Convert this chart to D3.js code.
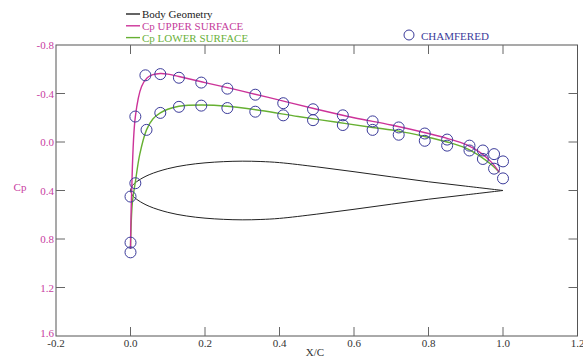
<!DOCTYPE html>
<html>
<head>
<meta charset="utf-8">
<script src="https://cdn.jsdelivr.net/npm/d3@7"></script>
<style>
  html, body { margin: 0; padding: 0; background: #fff; }
  svg { display: block; }
</style>
</head>
<body>
<div id="chart"></div>
<script>
// ---- data ----
const xTicks = [-0.2, 0.0, 0.2, 0.4, 0.6, 0.8, 1.0, 1.2];
const yTicks = [-0.8, -0.4, 0.0, 0.4, 0.8, 1.2, 1.6];

// body geometry (drawn on the Cp axis, chord line at Cp = 0.4)
const bodyX     = [0, 0.005, 0.02, 0.05, 0.1, 0.15, 0.2, 0.25, 0.3, 0.35, 0.4, 0.5, 0.6, 0.7, 0.8, 0.9, 1.0];
const bodyUpper = [0.40, 0.36, 0.32, 0.27, 0.22, 0.19, 0.172, 0.162, 0.158, 0.161, 0.17, 0.205, 0.245, 0.287, 0.328, 0.364, 0.40];
const bodyLower = [0.40, 0.44, 0.48, 0.53, 0.58, 0.61, 0.628, 0.638, 0.642, 0.639, 0.63, 0.595, 0.555, 0.513, 0.472, 0.436, 0.40];

// Cp upper surface (magenta)
const upperX  = [0.0, 0.003, 0.013, 0.03, 0.045, 0.06, 0.08, 0.1, 0.13, 0.2, 0.3, 0.4, 0.5, 0.6, 0.7, 0.8, 0.85, 0.9, 0.94, 0.97, 0.99];
const upperCp = [0.88, 0.42, -0.21, -0.46, -0.53, -0.555, -0.565, -0.56, -0.54, -0.49, -0.42, -0.345, -0.27, -0.2, -0.14, -0.07, -0.03, 0.02, 0.09, 0.17, 0.25];

// Cp lower surface (green)
const lowerX  = [0.0, 0.005, 0.013, 0.025, 0.043, 0.06, 0.08, 0.1, 0.13, 0.19, 0.26, 0.35, 0.45, 0.55, 0.65, 0.72, 0.79, 0.85, 0.9, 0.94, 0.97, 0.99];
const lowerCp = [0.88, 0.5, 0.33, 0.1, -0.1, -0.19, -0.24, -0.27, -0.295, -0.305, -0.295, -0.26, -0.21, -0.165, -0.12, -0.09, -0.045, 0.0, 0.05, 0.12, 0.19, 0.25];

// chamfered (circles)
const chamX  = [0.0, 0.0, 0.0, 0.013, 0.04, 0.08, 0.13, 0.19, 0.26, 0.335, 0.41, 0.49, 0.57, 0.65, 0.72, 0.79, 0.85, 0.91, 0.946, 0.976, 1.0,
                0.013, 0.043, 0.08, 0.13, 0.19, 0.26, 0.335, 0.41, 0.49, 0.57, 0.65, 0.72, 0.79, 0.85, 0.91, 0.946, 0.976, 1.0];
const chamCp = [0.91, 0.83, 0.45, -0.21, -0.55, -0.56, -0.53, -0.49, -0.44, -0.39, -0.32, -0.27, -0.22, -0.17, -0.12, -0.07, -0.02, 0.03, 0.07, 0.10, 0.16,
                0.34, -0.10, -0.24, -0.29, -0.30, -0.28, -0.25, -0.22, -0.18, -0.14, -0.10, -0.06, -0.01, 0.03, 0.07, 0.14, 0.22, 0.30];

const legendItems = [
  { label: 'Body Geometry', color: '#222', text: '#222' },
  { label: 'Cp UPPER SURFACE', color: '#cc3399', text: '#c53d9c' },
  { label: 'Cp LOWER SURFACE', color: '#66b032', text: '#6ab13a' },
];

// ---- chart ----
const width = 583, height = 360;
const font = '"Liberation Serif", "Times New Roman", serif';
const magenta = '#cc3399', green = '#66b032', navy = '#3b3b9a';
const fmt = d => d.toFixed(1);

const svg = d3.select('#chart').append('svg')
  .attr('width', width)
  .attr('height', height);

const x = d3.scaleLinear().domain([-0.2, 1.2]).range([56, 577.5]);
const y = d3.scaleLinear().domain([-0.8, 1.6]).range([45, 336]);

// frame
svg.append('rect')
  .attr('x', x(-0.2)).attr('y', y(-0.8))
  .attr('width', x(1.2) - x(-0.2)).attr('height', y(1.6) - y(-0.8))
  .attr('fill', 'none').attr('stroke', '#555').attr('stroke-width', 1);

// ticks, inward on all four sides
const tickLen = 9;
const inner = xTicks.slice(1, -1);
svg.append('g').selectAll('line').data(inner).enter().append('line')
  .attr('x1', d => x(d)).attr('x2', d => x(d))
  .attr('y1', y(1.6)).attr('y2', y(1.6) - tickLen)
  .attr('stroke', '#666');
svg.append('g').selectAll('line').data(inner).enter().append('line')
  .attr('x1', d => x(d)).attr('x2', d => x(d))
  .attr('y1', y(-0.8)).attr('y2', y(-0.8) + tickLen)
  .attr('stroke', '#666');
const innerY = yTicks.slice(1, -1);
svg.append('g').selectAll('line').data(innerY).enter().append('line')
  .attr('x1', x(-0.2)).attr('x2', x(-0.2) + tickLen)
  .attr('y1', d => y(d)).attr('y2', d => y(d))
  .attr('stroke', '#666');
svg.append('g').selectAll('line').data(innerY).enter().append('line')
  .attr('x1', x(1.2)).attr('x2', x(1.2) - tickLen)
  .attr('y1', d => y(d)).attr('y2', d => y(d))
  .attr('stroke', '#666');

// tick labels
svg.append('g').selectAll('text').data(xTicks).enter().append('text')
  .attr('x', d => x(d)).attr('y', y(1.6) + 11)
  .attr('text-anchor', 'middle')
  .attr('font-family', font).attr('font-size', 11).attr('fill', '#333')
  .text(fmt);
svg.append('g').selectAll('text').data(yTicks).enter().append('text')
  .attr('x', x(-0.2) - 2).attr('y', d => y(d) + (d === 1.6 ? 1 : 4))
  .attr('text-anchor', 'end')
  .attr('font-family', font).attr('font-size', 11).attr('fill', '#c8409f')
  .text(fmt);

// axis titles
svg.append('text').attr('x', 315).attr('y', 356)
  .attr('text-anchor', 'middle').attr('font-family', font).attr('font-size', 11).attr('fill', '#333')
  .text('X/C');
svg.append('text').attr('x', 20).attr('y', 191)
  .attr('text-anchor', 'middle').attr('font-family', font).attr('font-size', 11).attr('fill', '#c8409f')
  .text('Cp');

// series
const line = d3.line()
  .x(d => x(d[0])).y(d => y(d[1]))
  .curve(d3.curveCatmullRom.alpha(0.5));

svg.append('path').datum(d3.zip(bodyX, bodyUpper))
  .attr('d', line).attr('fill', 'none').attr('stroke', '#222').attr('stroke-width', 1);
svg.append('path').datum(d3.zip(bodyX, bodyLower))
  .attr('d', line).attr('fill', 'none').attr('stroke', '#222').attr('stroke-width', 1);

svg.append('path').datum(d3.zip(lowerX, lowerCp))
  .attr('d', line).attr('fill', 'none').attr('stroke', green).attr('stroke-width', 1.4);
svg.append('path').datum(d3.zip(upperX, upperCp))
  .attr('d', line).attr('fill', 'none').attr('stroke', magenta).attr('stroke-width', 1.4);

svg.append('g').selectAll('circle').data(d3.zip(chamX, chamCp)).enter().append('circle')
  .attr('cx', d => x(d[0])).attr('cy', d => y(d[1]))
  .attr('r', 5.5)
  .attr('fill', 'none').attr('stroke', navy).attr('stroke-width', 1);

// legend
const leg = svg.append('g');
legendItems.forEach((item, i) => {
  const ly = 14 + i * 11.8;
  leg.append('line')
    .attr('x1', 126).attr('x2', 140).attr('y1', ly).attr('y2', ly)
    .attr('stroke', item.color).attr('stroke-width', 1.4);
  leg.append('text')
    .attr('x', 142).attr('y', ly + 4)
    .attr('font-family', font).attr('font-size', 11).attr('fill', item.text)
    .text(item.label);
});

leg.append('circle').attr('cx', 409).attr('cy', 35).attr('r', 5)
  .attr('fill', 'none').attr('stroke', navy).attr('stroke-width', 1);
leg.append('text').attr('x', 421).attr('y', 39.5)
  .attr('font-family', font).attr('font-size', 11).attr('fill', navy)
  .text('CHAMFERED');
</script>
</body>
</html>
